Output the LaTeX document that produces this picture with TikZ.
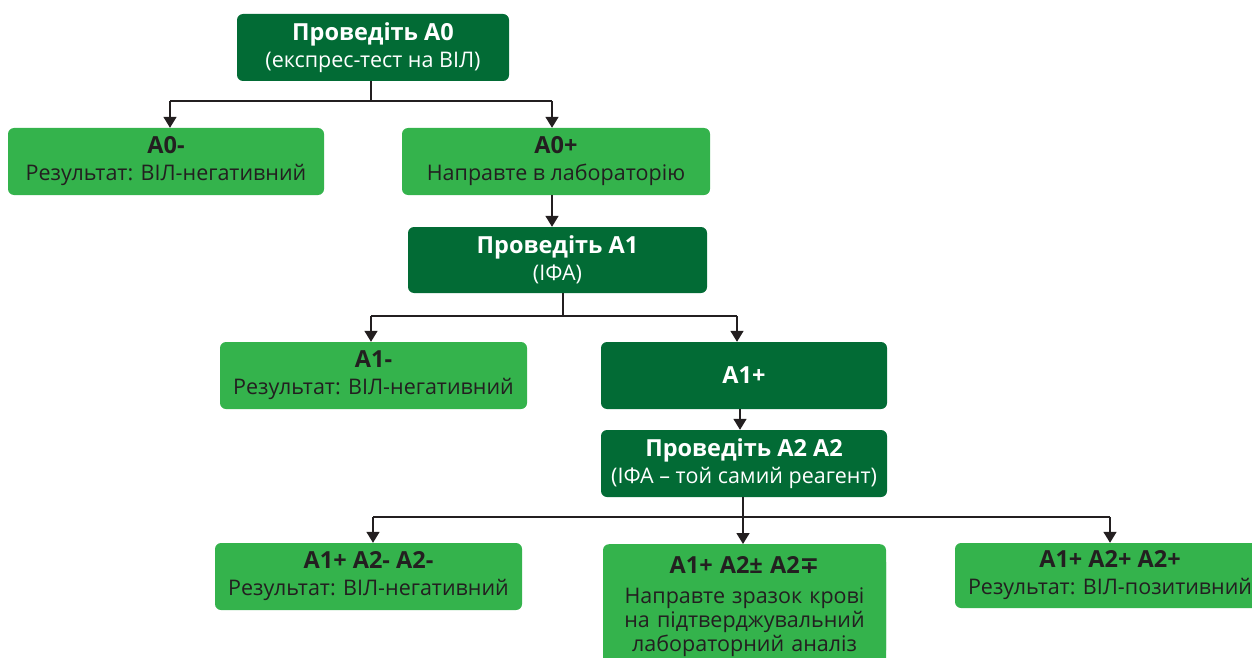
\documentclass[tikz,border=0pt]{standalone}
\usepackage{fontspec}
\setmainfont{Open Sans}
\newfontfamily\symfont{DejaVu Sans}
\usetikzlibrary{arrows.meta}
\definecolor{darkg}{HTML}{026B35}
\definecolor{lightg}{HTML}{34B34C}
\definecolor{ink}{HTML}{231F20}
\newcommand{\ttl}[1]{{\fontsize{23.5}{26}\selectfont\bfseries #1}}
\tikzset{
  box/.style={rounded corners=6pt, inner sep=0pt, align=center,
    font=\fontsize{21.5}{27}\selectfont},
  dbox/.style={box, fill=darkg, text=white},
  lbox/.style={box, fill=lightg, text=ink},
  conn/.style={draw=ink, line width=1.6pt},
  arr/.style={conn, -{Triangle[width=13pt,length=11pt]}},
}
\begin{document}
\begin{tikzpicture}[x=1pt,y=-1pt]
\clip (0,0) rectangle (1252,658);
\node[dbox, minimum width=272pt, minimum height=67pt] (A0) at (373,47.5)
  {\ttl{Проведіть А0}\\(експрес-тест на ВІЛ)};
\node[lbox, minimum width=316pt, minimum height=67pt] (A0m) at (166,161.5)
  {\ttl{А0-}\\Результат: ВІЛ-негативний};
\node[lbox, minimum width=308pt, minimum height=67pt] (A0p) at (556,161.5)
  {\ttl{А0+}\\Направте в лабораторію};
\node[dbox, minimum width=299pt, minimum height=66pt] (A1) at (557.5,260)
  {\ttl{Проведіть А1}\\(ІФА)};
\node[lbox, minimum width=307pt, minimum height=67pt] (A1m) at (373.5,375.5)
  {\ttl{А1-}\\Результат: ВІЛ-негативний};
\node[dbox, minimum width=286pt, minimum height=67pt] (A1p) at (744,375.5)
  {\ttl{А1+}};
\node[dbox, minimum width=286pt, minimum height=67pt] (A2) at (744,463.5)
  {\ttl{Проведіть А2 А2}\\(ІФА – той самий реагент)};
\node[lbox, minimum width=307pt, minimum height=67pt] (B1) at (368.5,576.5)
  {\ttl{А1+ А2- А2-}\\Результат: ВІЛ-негативний};
\node[lbox, minimum width=283pt, minimum height=124pt, anchor=north] (B2) at (744.5,544)
  {};
\node[lbox, anchor=north, text width=283pt, font=\fontsize{21.5}{24}\selectfont] (B2t) at (744.5,556)
  {\ttl{А1+ А2± А2{\symfont\bfseries ∓}}\\[6pt]Направте зразок крові\\на підтверджувальний\\лабораторний аналіз};
\node[lbox, minimum width=310pt, minimum height=65pt] (B3) at (1110,575.5)
  {\ttl{А1+ А2+ А2+}\\Результат: ВІЛ-позитивний};
% connectors
\draw[conn] ([xshift=-2pt]A0.south) -- ++(0,20) coordinate (j0);
\draw[conn] ([xshift=4pt]A0m.north |- j0) -- ([xshift=-4pt]A0p.north |- j0);
\draw[arr] ([xshift=4pt]A0m.north |- j0) -- ([xshift=4pt]A0m.north);
\draw[arr] ([xshift=-4pt]A0p.north |- j0) -- ([xshift=-4pt]A0p.north);
\draw[arr] ([xshift=-4pt]A0p.south) -- ([xshift=-4pt]A0p.south |- A1.north);
\draw[conn] ([xshift=5.5pt]A1.south) -- ++(0,23) coordinate (j1);
\draw[conn] ([xshift=-2.5pt]A1m.north |- j1) -- ([xshift=-7pt]A1p.north |- j1);
\draw[arr] ([xshift=-2.5pt]A1m.north |- j1) -- ([xshift=-2.5pt]A1m.north);
\draw[arr] ([xshift=-7pt]A1p.north |- j1) -- ([xshift=-7pt]A1p.north);
\draw[arr] ([xshift=-4pt]A1p.south) -- ([xshift=-4pt]A2.north);
\draw[conn] ([xshift=-1pt]A2.south) -- ++(0,20) coordinate (j2);
\draw[conn] ([xshift=4.5pt]B1.north |- j2) -- (B3.north |- j2);
\draw[arr] ([xshift=4.5pt]B1.north |- j2) -- ([xshift=4.5pt]B1.north);
\draw[arr] ([xshift=-1.5pt]B2.north |- j2) -- ([xshift=-1.5pt]B2.north);
\draw[arr] (B3.north |- j2) -- (B3.north);
\end{tikzpicture}
\end{document}
